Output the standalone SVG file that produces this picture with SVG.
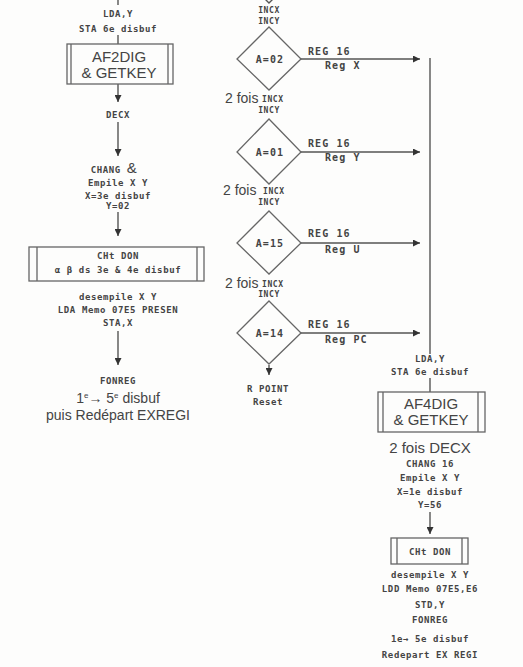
<svg xmlns="http://www.w3.org/2000/svg" width="523" height="667" viewBox="0 0 523 667">
<defs>
<marker id="ah" viewBox="0 0 10 10" refX="10" refY="5" markerWidth="8" markerHeight="7" markerUnits="userSpaceOnUse" orient="auto"><path d="M0,0 L10,5 L0,10 z" fill="#333"/></marker>
<style>
.ln{stroke:#555;stroke-width:1.4;fill:none}
.ar{stroke:#555;stroke-width:1.4;fill:none;marker-end:url(#ah)}
.bx{stroke:#666;stroke-width:1.3;fill:none}
.s{font-family:"DejaVu Sans Mono",monospace;font-size:9px;font-weight:bold;fill:#444;text-anchor:middle;letter-spacing:0.6px}
.t{font-family:"DejaVu Sans Mono",monospace;font-size:8px;font-weight:bold;fill:#444;letter-spacing:0.6px}
.m{font-family:"DejaVu Sans Mono",monospace;font-size:10px;font-weight:bold;fill:#444;letter-spacing:1.1px}
.l{font-family:"Liberation Sans",Arial,sans-serif;font-size:15px;fill:#444;text-anchor:middle}
.k{font-family:"Liberation Sans",Arial,sans-serif;font-size:14px;fill:#444}
</style>
</defs>
<rect width="523" height="667" fill="#fdfdfc"/>

<g id="connectors">
<path class="ln" d="M118,0 V5"/>
<path class="ln" d="M118,35 V44"/>
<path class="ar" d="M118,84 V102"/>
<path class="ar" d="M118,122 V156"/>
<path class="ar" d="M118,212 V236"/>
<path class="ar" d="M118,331 V365"/>
<path class="ln" d="M262,-4 L269,3 L276,-4"/>
<path class="ar" d="M301,59 H420"/>
<path class="ar" d="M301,152 H420"/>
<path class="ar" d="M301,243 H420"/>
<path class="ar" d="M301,333 H420"/>
<path class="ar" d="M269,365 V375"/>
<path class="ln" d="M430,58 V354"/>
<path class="ln" d="M430,378 V392"/>
<path class="ar" d="M430,512 V534"/>
</g>

<g id="n_lday_left">
<text class="s" x="118" y="17">LDA,Y</text>
<text class="s" x="118" y="32">STA 6e disbuf</text>
</g>
<g id="n_af2dig">
<rect class="bx" x="67" y="44" width="106" height="40"/>
<path class="bx" d="M71,44 V84 M168,44 V84"/>
<text class="l" x="119" y="62">AF2DIG</text>
<text class="l" x="119" y="78">&amp; GETKEY</text>
</g>
<g id="n_decx">
<text class="s" x="118" y="118">DECX</text>
</g>
<g id="n_chang_left">
<text class="s" x="114" y="173">CHANG <tspan style="font-family:'Liberation Sans',Arial,sans-serif;font-size:15px;font-weight:normal">&amp;</tspan></text>
<text class="s" x="118" y="186">Empile X Y</text>
<text class="s" x="118" y="199">X=3e disbuf</text>
<text class="s" x="118" y="209">Y=02</text>
</g>
<g id="n_chtdon_left">
<rect class="bx" x="29" y="247" width="175" height="34"/>
<path class="bx" d="M37,247 V281 M197,247 V281"/>
<text class="s" x="118" y="259">CHt DON</text>
<text class="s" x="118" y="273">α β ds 3e &amp; 4e disbuf</text>
</g>
<g id="n_desempile_left">
<text class="s" x="118" y="300">desempile X Y</text>
<text class="s" x="118" y="313">LDA Memo 07E5 PRESEN</text>
<text class="s" x="118" y="326">STA,X</text>
</g>
<g id="n_fonreg_left">
<text class="s" x="118" y="384">FONREG</text>
<text class="k" x="118" y="403" text-anchor="middle">1<tspan font-size="8" dy="-5">e</tspan><tspan dy="5">→ 5</tspan><tspan font-size="8" dy="-5">e</tspan><tspan dy="5"> disbuf</tspan></text>
<text class="k" x="118" y="420" text-anchor="middle">puis Redépart EXREGI</text>
</g>

<g id="n_incx_top">
<text class="t" x="269" y="13" text-anchor="middle">INCX</text>
<text class="t" x="269" y="24" text-anchor="middle">INCY</text>
</g>
<g id="n_a02">
<polygon class="bx" points="269,27 301,59 269,90 237,59"/>
<text class="m" x="270" y="63" text-anchor="middle">A=02</text>
<text class="m" x="308" y="55">REG 16</text>
<text class="m" x="325" y="69">Reg X</text>
</g>
<g id="n_incx_1">
<text class="k" x="225" y="103">2 fois</text>
<text class="t" x="262" y="102">INCX</text>
<text class="t" x="269" y="113" text-anchor="middle">INCY</text>
</g>
<g id="n_a01">
<polygon class="bx" points="269,119 301,152 269,184 237,152"/>
<text class="m" x="270" y="156" text-anchor="middle">A=01</text>
<text class="m" x="308" y="147">REG 16</text>
<text class="m" x="325" y="161">Reg Y</text>
</g>
<g id="n_incx_2">
<text class="k" x="223" y="195">2 fois</text>
<text class="t" x="263" y="194">INCX</text>
<text class="t" x="269" y="205" text-anchor="middle">INCY</text>
</g>
<g id="n_a15">
<polygon class="bx" points="269,211 301,243 269,274 237,243"/>
<text class="m" x="270" y="247" text-anchor="middle">A=15</text>
<text class="m" x="308" y="237">REG 16</text>
<text class="m" x="325" y="253">Reg U</text>
</g>
<g id="n_incx_3">
<text class="k" x="225" y="288">2 fois</text>
<text class="t" x="262" y="287">INCX</text>
<text class="t" x="269" y="297" text-anchor="middle">INCY</text>
</g>
<g id="n_a14">
<polygon class="bx" points="269,301 301,333 269,364 237,333"/>
<text class="m" x="270" y="337" text-anchor="middle">A=14</text>
<text class="m" x="308" y="328">REG 16</text>
<text class="m" x="325" y="343">Reg PC</text>
</g>
<g id="n_rpoint">
<text class="s" x="268" y="392">R POINT</text>
<text class="s" x="268" y="405">Reset</text>
</g>

<g id="n_lday_right">
<text class="s" x="430" y="362">LDA,Y</text>
<text class="s" x="430" y="375">STA 6e disbuf</text>
</g>
<g id="n_af4dig">
<rect class="bx" x="378" y="392" width="107" height="40"/>
<path class="bx" d="M383,392 V432 M478,392 V432"/>
<text class="l" x="431" y="409">AF4DIG</text>
<text class="l" x="431" y="425">&amp; GETKEY</text>
</g>
<g id="n_chang_right">
<text class="l" x="430" y="453">2 fois DECX</text>
<text class="s" x="430" y="467">CHANG 16</text>
<text class="s" x="430" y="481">Empile X Y</text>
<text class="s" x="430" y="495">X=1e disbuf</text>
<text class="s" x="430" y="508">Y=56</text>
</g>
<g id="n_chtdon_right">
<rect class="bx" x="391" y="538" width="77" height="26"/>
<path class="bx" d="M397,538 V564 M462,538 V564"/>
<text class="s" x="430" y="555">CHt DON</text>
</g>
<g id="n_desempile_right">
<text class="s" x="430" y="578">desempile X Y</text>
<text class="s" x="430" y="592">LDD Memo 07E5,E6</text>
<text class="s" x="430" y="608">STD,Y</text>
<text class="s" x="430" y="623">FONREG</text>
<text class="s" x="430" y="642">1e→ 5e disbuf</text>
<text class="s" x="430" y="658">Redepart EX REGI</text>
</g>
</svg>
